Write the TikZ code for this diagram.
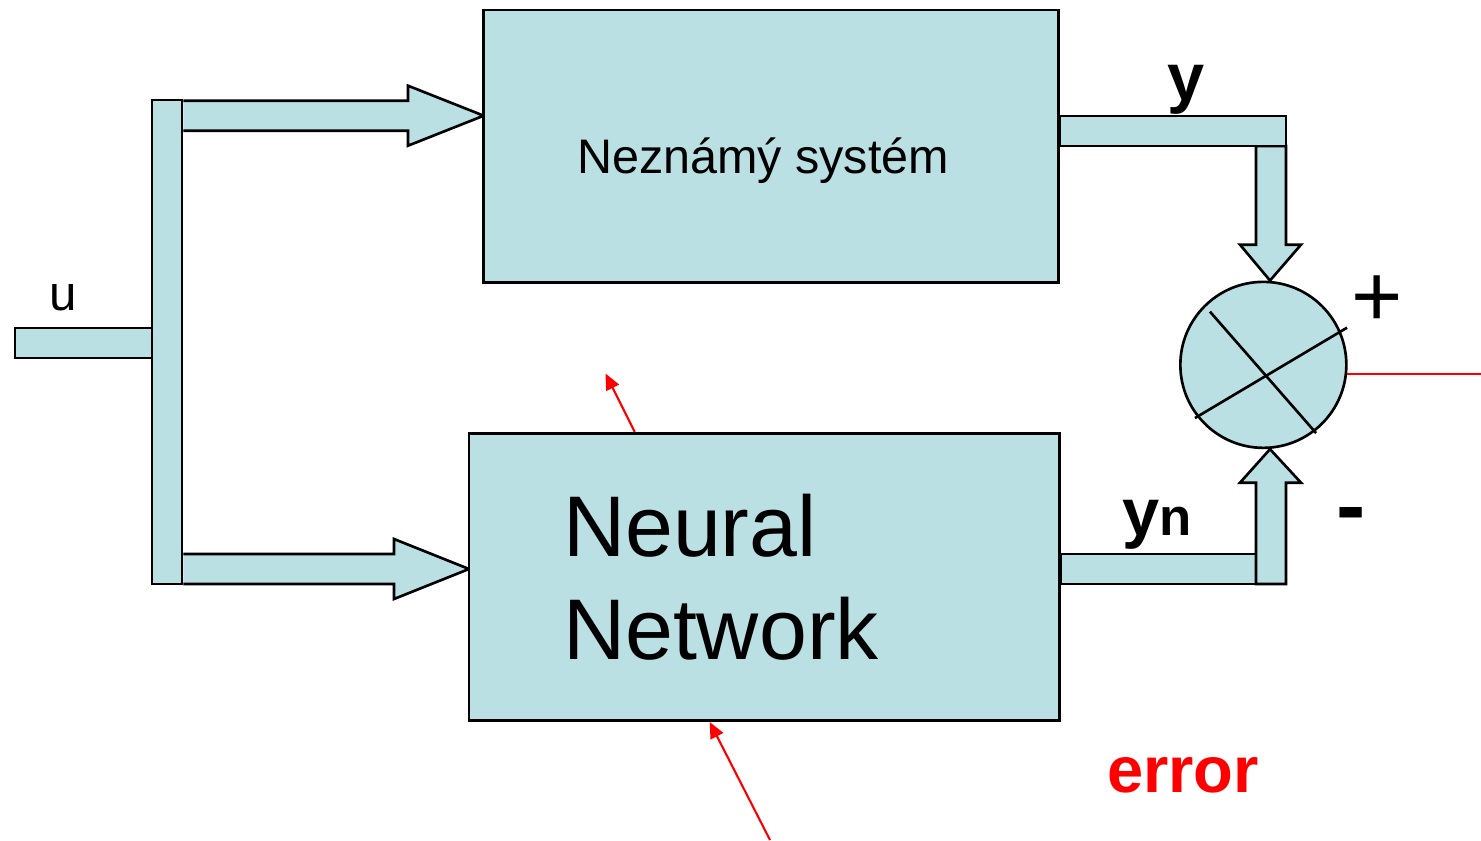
\documentclass[tikz,border=0pt]{standalone}
\usepackage{fontspec}
\setmainfont{Liberation Sans}
\usetikzlibrary{arrows.meta,positioning}
\definecolor{paleblue}{RGB}{187,224,227}

\tikzset{
  block/.style={draw, fill=paleblue, line width=0.75pt, inner sep=0pt},
  pipe/.style={draw, fill=paleblue, line width=0.75pt, line join=miter},
  errline/.style={red, line width=0.6pt},
  errarrow/.style={red, line width=0.6pt, -{Triangle[length=0.16cm,width=0.14cm]}},
  sig/.style={font=\fontsize{19}{22}\selectfont\bfseries, anchor=base}
}

\begin{document}
\begin{tikzpicture}
  \useasboundingbox (0,0) rectangle (14.81,-8.40);

  % input and splitter
  \draw[pipe] (0.15,-3.28) rectangle (1.52,-3.58);
  \node[font=\fontsize{14}{16}\selectfont, anchor=base] (u) at (0.635,-3.10) {u};
  \node[block, minimum width=0.30cm, minimum height=4.84cm] (split) at (1.67,-3.42) {};

  % fat arrows to the blocks
  \coordinate (systip) at (4.837,-1.157);
  \coordinate (nntip) at (4.69,-5.69);
  \draw[pipe] (split.east |- 0,-1.007) -- (4.08,-1.007) -- (4.08,-0.857) -- (systip)
    -- (4.08,-1.457) -- (4.08,-1.307) -- (split.east |- 0,-1.307);
  \draw[pipe] (split.east |- 0,-5.54) -- (3.94,-5.54) -- (3.94,-5.39) -- (nntip)
    -- (3.94,-5.99) -- (3.94,-5.84) -- (split.east |- 0,-5.84);

  % blocks
  \node[block, minimum width=5.75cm, minimum height=2.727cm] (sys) at (7.7125,-1.4635) {};
  \node[font=\fontsize{13.8}{16}\selectfont, anchor=base] (systxt) at (7.63,-1.733) {Neznámý systém};
  \node[block, minimum width=5.906cm, minimum height=2.874cm, text width=4.026cm,
    inner xsep=0.94cm, align=left, font=\fontsize{24.5}{29.2}\selectfont]
    (nn) at (7.643,-5.77) {Neural\\Network};

  % comparator
  \node[block, circle, minimum size=1.66cm] (sum) at (12.6335,-3.6485) {};
  \draw[line width=0.75pt] ([shift={(-0.534,0.532)}]sum.center) -- ([shift={(0.527,-0.682)}]sum.center);
  \draw[line width=0.75pt] ([shift={(-0.684,-0.532)}]sum.center) -- ([shift={(0.837,0.372)}]sum.center);

  % y path
  \draw[pipe] (12.56,-1.46) -- (12.56,-2.447) -- (12.40,-2.447) -- (sum.north -| 12.70,0)
    -- (13.01,-2.447) -- (12.86,-2.447) -- (12.86,-1.46) -- cycle;
  \draw[pipe] (sys.east |- 0,-1.16) rectangle (12.86,-1.46);
  \node[sig] (ylab) at (11.865,-1.005) {y};
  \node[font=\fontsize{25}{28}\selectfont, anchor=base] (plus) at (13.77,-3.26) {+};

  % yn path
  \draw[pipe] (nn.east |- 0,-5.54) rectangle (12.56,-5.84);
  \draw[pipe] (12.56,-5.84) -- (12.56,-4.827) -- (12.40,-4.827) -- (sum.south -| 12.70,0)
    -- (13.01,-4.827) -- (12.86,-4.827) -- (12.86,-5.84) -- cycle;
  \node[sig] (ynlab) at (11.575,-5.35) {y{\fontsize{15}{18}\selectfont n}};
  \node[font=\fontsize{25}{28}\selectfont\bfseries, anchor=base] (minus) at (13.51,-5.35) {-};

  % error signal
  \coordinate (errend) at (14.81,-3.735);
  \draw[errline] (sum.-6) -- (sum.-6 -| errend);
  \coordinate (tipA) at (6.055,-3.735);
  \coordinate (tailB) at (7.70,-8.40);
  \draw[errarrow] ([xshift=1.67cm]nn.north west) -- (tipA);
  \draw[errarrow] (tailB) -- ([xshift=2.42cm]nn.south west);
  \node[sig, red, font=\fontsize{18.5}{22}\selectfont\bfseries] (err) at (11.83,-7.92) {error};
\end{tikzpicture}
\end{document}
